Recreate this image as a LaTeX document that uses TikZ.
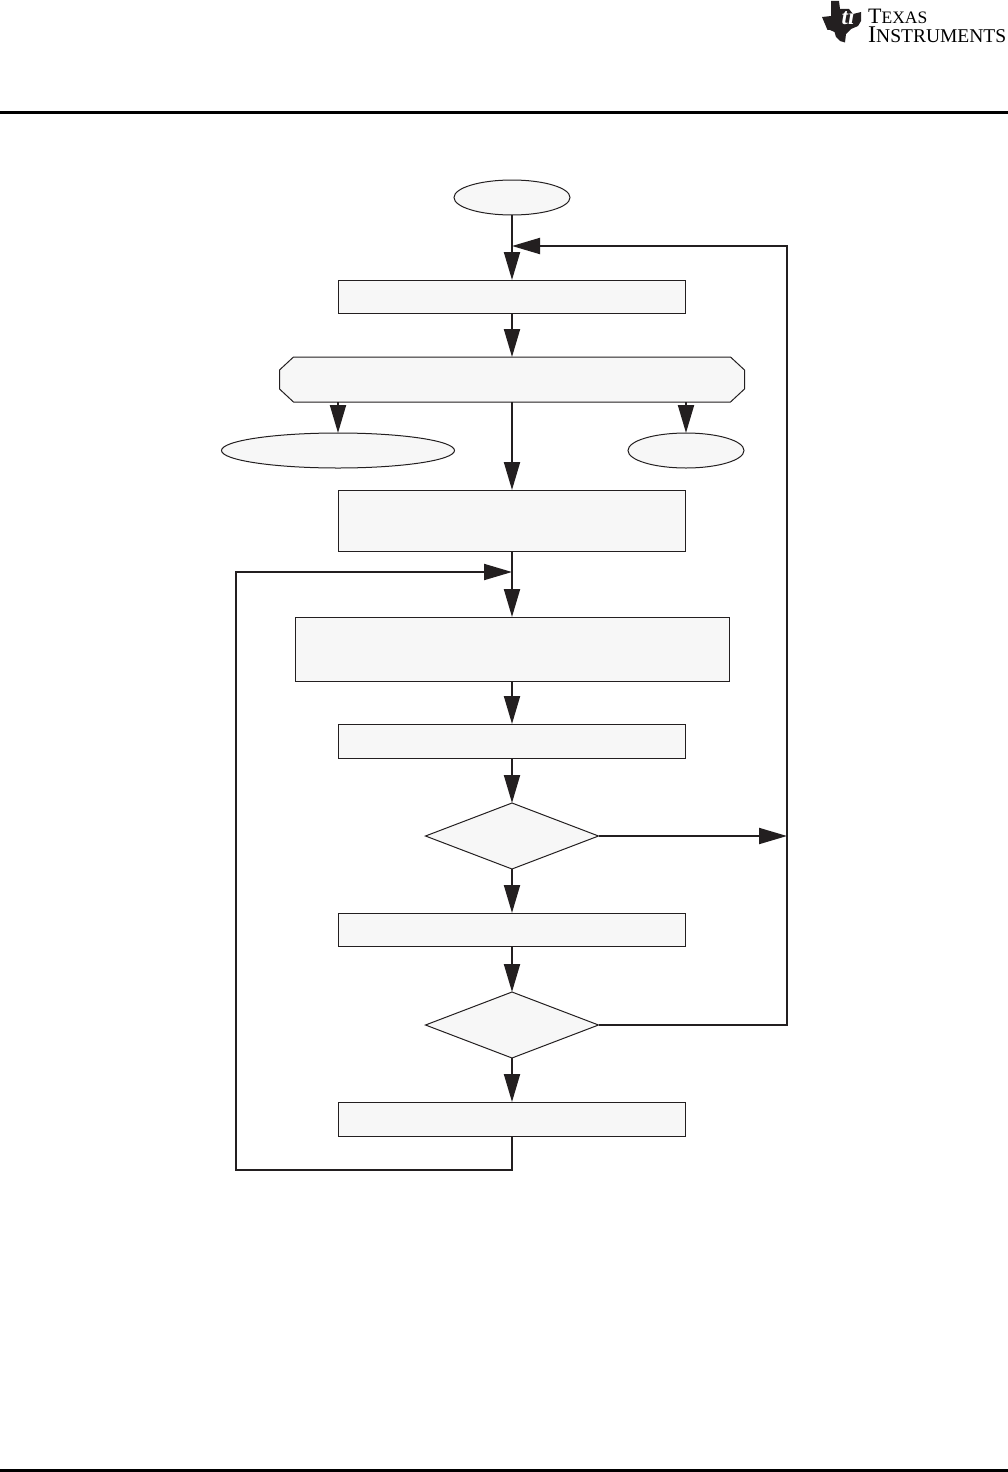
\documentclass[tikz,border=0pt]{standalone}
\usepackage{fontspec}
\setmainfont{Liberation Serif}
\usetikzlibrary{arrows.meta, positioning, shapes.geometric}
\definecolor{inkdark}{RGB}{35,31,32}
\definecolor{boxfill}{RGB}{247,247,247}
\newcommand{\logotext}[4]{{\fontsize{#1}{#1}\selectfont #3}{\fontsize{#2}{#2}\selectfont #4}}

\begin{document}
\begin{tikzpicture}[
  x=1pt, y=1pt,
  base/.style={draw=inkdark, fill=boxfill, line width=1pt, inner sep=0pt, outer sep=0pt},
  box/.style={base, rectangle, minimum width=347pt},
  oval/.style={base, ellipse, minimum height=35pt},
  choice/.style={base, diamond, minimum width=173pt, minimum height=66pt},
  arr/.style={-{Triangle[length=28pt, width=16pt]}, line width=2pt, inkdark}
]
  \useasboundingbox (0,0) rectangle (1008,-1472);

  % page rules
  \coordinate (ruleL) at (0,-112);
  \coordinate (ruleR) at (1008,-112);
  \coordinate (footL) at (0,-1470.5);
  \coordinate (footR) at (1008,-1470.5);
  \draw[line width=3pt, black] (ruleL) -- (ruleR);
  \draw[line width=3pt, black] (footL) -- (footR);

  % logo
  \fill[inkdark] (831,-1) -- (839,-1) -- (840,-9) -- (849,-9) -- (853,-14) -- (861,-12) -- (861,-21)
    -- (858,-26) -- (851,-29) -- (846,-34) -- (845,-42.5) -- (840,-41) -- (836,-37)
    -- (834.5,-32) -- (830,-30) -- (827.5,-30) -- (822,-17) -- (831,-16) -- cycle;
  \node[text=white, font=\fontsize{23}{23}\selectfont\itshape\bfseries, inner sep=0pt] (tilogo) at (848,-17) {ti};
  \node[anchor=base west, inner sep=0pt] (texas) at (868,-24) {\logotext{22}{17.5}{T}{EXAS}};
  \node[anchor=base west, inner sep=0pt] (instr) at (868,-43) {\logotext{24}{19.5}{I}{NSTRUMENTS}};

  % main column
  \node[oval, minimum width=116pt] (start) at (512,-197.5) {};
  \node[box, minimum height=33pt, below=65pt of start] (initbox) {};
  \node[minimum width=465pt, minimum height=45pt, inner sep=0pt, outer sep=0pt, below=44pt of initbox] (octa) {};
  \filldraw[draw=inkdark, fill=boxfill, line width=1pt]
    ([xshift=14pt]octa.north west) -- ([xshift=-14pt]octa.north east) -- ([yshift=-13pt]octa.north east)
    -- ([yshift=13pt]octa.south east) -- ([xshift=-14pt]octa.south east) -- ([xshift=14pt]octa.south west)
    -- ([yshift=13pt]octa.south west) -- ([yshift=-13pt]octa.north west) -- cycle;
  \node[oval, minimum width=233pt, below=31pt of octa, xshift=-174pt] (leftend) {};
  \node[oval, minimum width=116pt, below=31pt of octa, xshift=174pt] (rightend) {};
  \node[box, minimum height=61pt, below=88pt of octa] (setupbox) {};
  \node[box, minimum width=434pt, minimum height=64pt, below=66pt of setupbox] (widebox) {};
  \node[box, minimum height=34pt, below=43pt of widebox] (readbox) {};
  \node[choice, below=45pt of readbox] (firstq) {};
  \node[box, minimum height=33pt, below=44pt of firstq] (midbox) {};
  \node[choice, below=46pt of midbox] (secondq) {};
  \node[box, minimum height=34pt, below=44pt of secondq] (lastbox) {};

  % joins
  \coordinate[below=31pt of start] (topjoin);
  \coordinate[below=21pt of setupbox] (loopjoin);
  \coordinate[below=34pt of lastbox] (loopfoot);
  \coordinate (loopside) at (236,-1170);
  \coordinate (rail) at (787,-246);

  \draw[arr] (start) -- (initbox);
  \draw[arr] (initbox) -- (octa);
  \draw[arr] (octa.south -| leftend) -- (leftend);
  \draw[arr] (octa.south -| rightend) -- (rightend);
  \draw[arr] (octa) -- (setupbox);
  \draw[arr] (setupbox) -- (widebox);
  \draw[arr] (widebox) -- (readbox);
  \draw[arr] (readbox) -- (firstq);
  \draw[arr] (firstq) -- (midbox);
  \draw[arr] (midbox) -- (secondq);
  \draw[arr] (secondq) -- (lastbox);
  \draw[arr] (firstq.east) -- (firstq.east -| rail);
  \draw[arr, line join=miter] (secondq.east) -| (rail) -- (topjoin);
  \draw[arr, line join=miter] (lastbox) -- (loopfoot) -- (loopside) |- (loopjoin);
\end{tikzpicture}
\end{document}
